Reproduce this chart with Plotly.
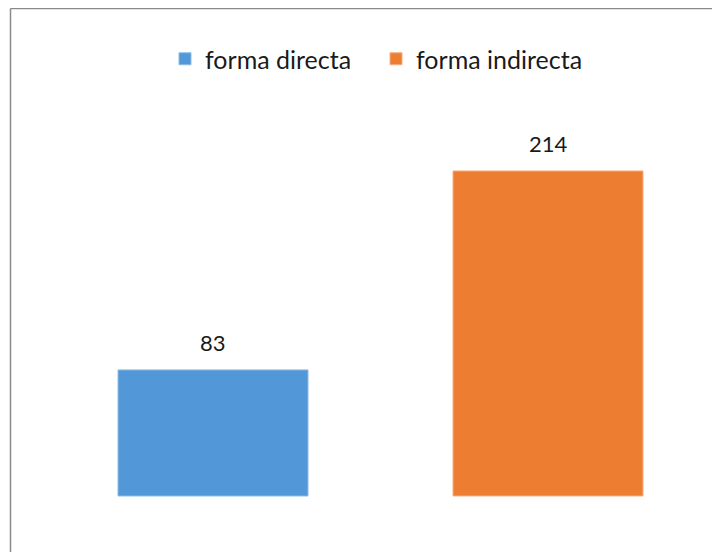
import plotly.graph_objects as go

series = ["forma directa", "forma indirecta"]
values = [83, 214]
colors = ["#5298d8", "#ed7d31"]
edges = ["#8dbbe6", "#f5b184"]

# the page adds an 8px body margin, so figure pixels are shifted by -8
W, H = 720, 552
x0_px, step_px = 205, 335
base_px, unit_px = 488, 1.519

fig = go.Figure()
for i, (name, val) in enumerate(zip(series, values)):
    fig.add_trace(go.Bar(
        x=[i], y=[val], name=name, width=190 / step_px,
        marker=dict(color=colors[i], line=dict(color=edges[i], width=1)),
        hoverinfo="skip",
    ))
    fig.add_annotation(x=i, y=val, text=str(val), showarrow=False,
                       yshift=27, yanchor="middle",
                       font=dict(size=22, color="#1a1a1a"))

# outer frame (only left and top edges show in the picture)
fig.add_shape(type="line", xref="paper", yref="paper",
              x0=2.5 / W, x1=2.5 / W, y0=-0.1, y1=1 - 0.5 / H,
              line=dict(color="#8a8a8a", width=1.5))
fig.add_shape(type="line", xref="paper", yref="paper",
              x0=2.5 / W, x1=1.1, y0=1 - 0.5 / H, y1=1 - 0.5 / H,
              line=dict(color="#8a8a8a", width=1.5))

fig.update_layout(
    width=W, height=H,
    margin=dict(l=0, r=0, t=0, b=0),
    paper_bgcolor="white", plot_bgcolor="white",
    barmode="overlay",
    font=dict(family="Lato, Open Sans, sans-serif", color="#1a1a1a"),
    showlegend=True,
    legend=dict(orientation="h", x=368 / W, xanchor="center",
                y=1 - 51 / H, yanchor="middle",
                font=dict(size=25), itemwidth=30, traceorder="normal",
                entrywidth=166),
    xaxis=dict(range=[-x0_px / step_px, (W - x0_px) / step_px],
               visible=False, fixedrange=True),
    yaxis=dict(range=[-(H - base_px) / unit_px, base_px / unit_px],
               visible=False, fixedrange=True),
)

fig.write_html("out.html")
